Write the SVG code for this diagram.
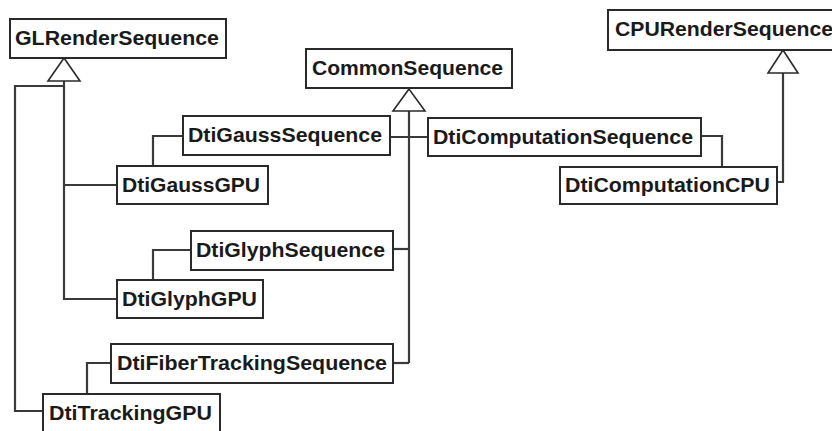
<svg xmlns="http://www.w3.org/2000/svg" width="832" height="431" viewBox="0 0 832 431">
<style>
.box{fill:#fff;stroke:#2a2a2a;stroke-width:2}
.lbl{font-family:"Liberation Sans",Arial,sans-serif;font-weight:bold;font-size:21px;fill:#1a1a1a}
.ln{fill:none;stroke:#3a3a3a;stroke-width:2.2}
.tri{fill:#fff;stroke:#2a2a2a;stroke-width:1.6}
</style>
<rect width="832" height="431" fill="#fff"/>
<g id="connectors">
<polyline class="ln" points="64,81 64,299 117,299"/>
<line class="ln" x1="64" y1="185" x2="117" y2="185"/>
<polyline class="ln" points="64,86 15,86 15,411 43,411"/>
<polygon class="tri" points="64,58 48,81 80,81"/>
<line class="ln" x1="409" y1="111" x2="409" y2="363"/>
<line class="ln" x1="390" y1="137" x2="428" y2="137"/>
<line class="ln" x1="393" y1="249" x2="409" y2="249"/>
<line class="ln" x1="393" y1="363" x2="409" y2="363"/>
<polygon class="tri" points="409,89 393,111 425,111"/>
<polyline class="ln" points="777,182 783,182 783,73"/>
<polygon class="tri" points="783,50 768,73 798,73"/>
<polyline class="ln" points="153,166 153,136 183,136"/>
<polyline class="ln" points="153,280 153,250 191,250"/>
<polyline class="ln" points="87,394 87,363 111,363"/>
<polyline class="ln" points="701,136 722,136 722,167"/>
</g>
<g id="GLRenderSequence"><rect class="box" x="10" y="19" width="216" height="39"/><text class="lbl" x="15" y="45" textLength="204" lengthAdjust="spacingAndGlyphs">GLRenderSequence</text></g>
<g id="CommonSequence"><rect class="box" x="306" y="49" width="206" height="39"/><text class="lbl" x="312" y="75" textLength="191" lengthAdjust="spacingAndGlyphs">CommonSequence</text></g>
<g id="CPURenderSequence"><rect class="box" x="608" y="10" width="236" height="40"/><text class="lbl" x="615" y="36" textLength="218" lengthAdjust="spacingAndGlyphs">CPURenderSequence</text></g>
<g id="DtiGaussSequence"><rect class="box" x="183" y="116" width="207" height="39"/><text class="lbl" x="188" y="142" textLength="194" lengthAdjust="spacingAndGlyphs">DtiGaussSequence</text></g>
<g id="DtiGaussGPU"><rect class="box" x="117" y="166" width="151" height="38"/><text class="lbl" x="122" y="192" textLength="138" lengthAdjust="spacingAndGlyphs">DtiGaussGPU</text></g>
<g id="DtiComputationSequence"><rect class="box" x="428" y="118" width="273" height="38"/><text class="lbl" x="433" y="144" textLength="260" lengthAdjust="spacingAndGlyphs">DtiComputationSequence</text></g>
<g id="DtiComputationCPU"><rect class="box" x="560" y="167" width="217" height="37"/><text class="lbl" x="565" y="192" textLength="205" lengthAdjust="spacingAndGlyphs">DtiComputationCPU</text></g>
<g id="DtiGlyphSequence"><rect class="box" x="191" y="231" width="202" height="39"/><text class="lbl" x="196" y="257" textLength="189" lengthAdjust="spacingAndGlyphs">DtiGlyphSequence</text></g>
<g id="DtiGlyphGPU"><rect class="box" x="117" y="280" width="146" height="38"/><text class="lbl" x="122" y="306" textLength="135" lengthAdjust="spacingAndGlyphs">DtiGlyphGPU</text></g>
<g id="DtiFiberTrackingSequence"><rect class="box" x="111" y="344" width="282" height="39"/><text class="lbl" x="117" y="370" textLength="270" lengthAdjust="spacingAndGlyphs">DtiFiberTrackingSequence</text></g>
<g id="DtiTrackingGPU"><rect class="box" x="43" y="394" width="177" height="40"/><text class="lbl" x="49" y="420" textLength="163" lengthAdjust="spacingAndGlyphs">DtiTrackingGPU</text></g>
</svg>
